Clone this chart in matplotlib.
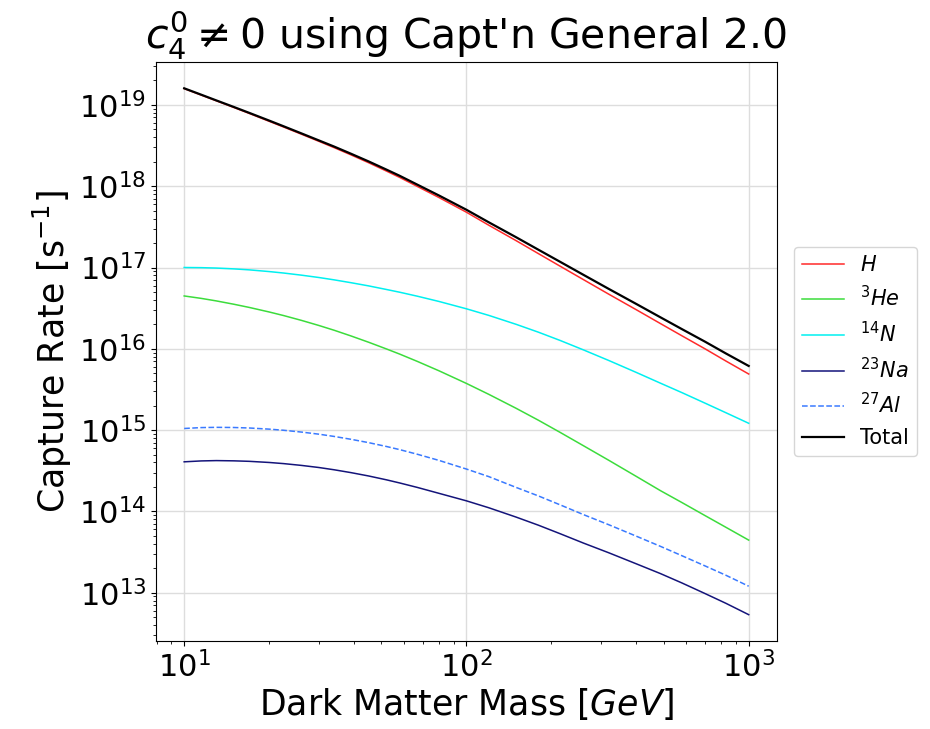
import numpy as np
import matplotlib
matplotlib.use("Agg")
import matplotlib.pyplot as plt

# Dark matter mass grid [GeV]
mass = [10, 11.5, 13, 15, 17, 20, 22.5, 26, 30, 34, 39, 45, 52, 58, 67, 80,
        100, 120, 150, 180, 215, 260, 320, 400, 487, 580, 700, 830, 1000]

# log10 of capture rate [1/s]
log_H = [19.20, 19.12, 19.05, 18.968, 18.895, 18.798, 18.728, 18.64, 18.552, 18.474,
         18.385, 18.289, 18.187, 18.108, 17.997, 17.86, 17.68, 17.52, 17.33, 17.17,
         17.015, 16.85, 16.67, 16.48, 16.31, 16.16, 16.00, 15.85, 15.69]
log_He3 = [16.65, 16.62, 16.589, 16.548, 16.509, 16.453, 16.409, 16.35, 16.287, 16.228,
           16.158, 16.081, 15.999, 15.935, 15.845, 15.729, 15.574, 15.44, 15.268, 15.121,
           14.971, 14.807, 14.627, 14.43, 14.255, 14.109, 13.949, 13.805, 13.647]
log_N14 = [17.00, 16.998, 16.993, 16.983, 16.971, 16.95, 16.932, 16.906, 16.877, 16.848,
           16.813, 16.774, 16.73, 16.696, 16.647, 16.582, 16.492, 16.411, 16.301, 16.204,
           16.102, 15.986, 15.855, 15.709, 15.577, 15.461, 15.332, 15.214, 15.084]
log_Na23 = [14.61, 14.621, 14.625, 14.622, 14.616, 14.602, 14.588, 14.566, 14.54, 14.512,
            14.477, 14.436, 14.389, 14.35, 14.295, 14.222, 14.13, 14.045, 13.93, 13.83,
            13.725, 13.61, 13.49, 13.355, 13.235, 13.12, 12.99, 12.87, 12.73]
log_Al27 = [15.02, 15.031, 15.034, 15.032, 15.026, 15.012, 14.998, 14.976, 14.95, 14.922,
            14.887, 14.846, 14.799, 14.76, 14.703, 14.627, 14.521, 14.428, 14.295, 14.19,
            14.08, 13.96, 13.835, 13.695, 13.57, 13.455, 13.33, 13.215, 13.08]
log_total = [19.204, 19.125, 19.055, 18.974, 18.902, 18.807, 18.737, 18.65, 18.563, 18.487,
             18.399, 18.305, 18.205, 18.128, 18.019, 17.885, 17.71, 17.556, 17.372, 17.218,
             17.069, 16.909, 16.735, 16.551, 16.387, 16.242, 16.088, 15.943, 15.789]

labels = [r"$H$", r"$^{3}He$", r"$^{14}N$", r"$^{23}Na$", r"$^{27}Al$", "Total"]


def main():
    fig = plt.figure(figsize=(9.3, 7.29), dpi=100)
    ax = fig.add_axes([0.1677, 0.1207, 0.6677, 0.7943])

    m = np.array(mass)
    ax.plot(m, 10 ** np.array(log_H), color="#ff2a2a", lw=1.1, label=labels[0])
    ax.plot(m, 10 ** np.array(log_He3), color="#3cdc3c", lw=1.1, label=labels[1])
    ax.plot(m, 10 ** np.array(log_N14), color="#00f0f0", lw=1.1, label=labels[2])
    ax.plot(m, 10 ** np.array(log_Na23), color="#14147a", lw=1.1, label=labels[3])
    ax.plot(m, 10 ** np.array(log_Al27), color="#3a7aff", lw=1.1, ls="--", label=labels[4])
    ax.plot(m, 10 ** np.array(log_total), color="black", lw=1.6, label=labels[5])

    ax.set_xscale("log")
    ax.set_yscale("log")
    ax.set_xlim(10 ** 0.9, 10 ** 3.1)
    ax.set_ylim(10 ** 12.406, 10 ** 19.528)

    ax.grid(True, which="major", color="#dddddd", lw=1)
    ax.tick_params(axis="both", which="major", labelsize=22)

    ax.set_xlabel(r"Dark Matter Mass $[GeV]$", fontsize=25, labelpad=2)
    ax.set_ylabel(r"Capture Rate [s$^{-1}$]", fontsize=25)
    ax.set_title(r"$c_4^0 \neq 0$ using Capt'n General 2.0", fontsize=29.5)

    ax.legend(loc="center left", bbox_to_anchor=(1.01, 0.5), fontsize=15)

    fig.savefig("out.png", dpi=100)


if __name__ == "__main__":
    main()
